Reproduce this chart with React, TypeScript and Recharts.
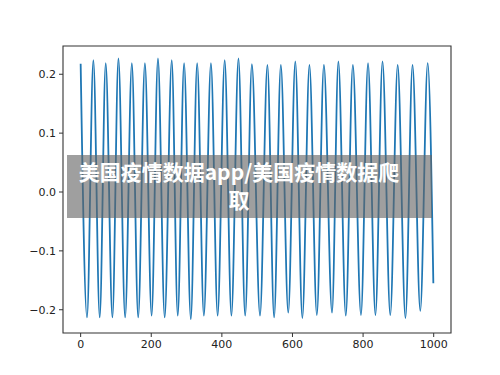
import React from "react";
import {
  LineChart,
  Line,
  XAxis,
  YAxis,
  ReferenceArea,
} from "recharts";

// crest positions and heights
const peakX = [
  0, 36, 71, 107, 145, 182, 219, 258, 293, 330, 369, 408, 447, 485, 529, 567,
  608, 648, 689, 730, 771, 814, 855, 898, 940, 983,
];
const peakY = [
  0.218, 0.224, 0.219, 0.227, 0.219, 0.219, 0.227, 0.224, 0.219, 0.219, 0.219,
  0.224, 0.227, 0.217, 0.216, 0.216, 0.222, 0.216, 0.216, 0.222, 0.216, 0.219,
  0.222, 0.216, 0.216, 0.219,
];

// trough positions and depths
const troughX = [
  18, 54, 90, 126, 163, 201, 238, 275, 312, 349, 388, 427, 466, 508, 548, 588,
  628, 669, 712, 751, 794, 835, 877, 920, 962,
];
const troughY = [
  -0.213, -0.213, -0.213, -0.213, -0.213, -0.21, -0.213, -0.21, -0.216, -0.21,
  -0.21, -0.21, -0.21, -0.21, -0.213, -0.205, -0.214, -0.209, -0.205, -0.21,
  -0.209, -0.209, -0.209, -0.214, -0.202,
];

// last sample
const endX = [999];
const endY = [-0.155];

const xTicks = [0, 200, 400, 600, 800, 1000];
const yTicks = [-0.2, -0.1, 0.0, 0.1, 0.2];

const xDomain: [number, number] = [-50, 1049];
const yDomain: [number, number] = [-0.2395, 0.248];

const points = [
  ...peakX.map((x, i) => ({ x, y: peakY[i] })),
  ...troughX.map((x, i) => ({ x, y: troughY[i] })),
  ...endX.map((x, i) => ({ x, y: endY[i] })),
].sort((a, b) => a.x - b.x);

const fmtY = (v: number) => v.toFixed(1).replace("-", "\u2212");

const tickStyle = {
  fontFamily: "DejaVu Sans",
  fontSize: 11,
  fill: "#222",
};

export default function App() {
  return (
    <div style={{ position: "absolute", left: 0, top: 0, width: 500, height: 375, background: "#fff" }}>
      <LineChart
        width={500}
        height={375}
        data={points}
        margin={{ top: 46, right: 49, bottom: 12, left: 0 }}
      >
        <XAxis
          type="number"
          dataKey="x"
          domain={xDomain}
          allowDataOverflow
          ticks={xTicks}
          height={30}
          axisLine={false}
          tickLine={{ stroke: "#333" }}
          tickSize={4}
          tickMargin={3}
          tick={tickStyle}
        />
        <YAxis
          type="number"
          domain={yDomain}
          allowDataOverflow
          ticks={yTicks}
          width={63}
          axisLine={false}
          tickLine={{ stroke: "#333" }}
          tickSize={4}
          tickMargin={3}
          tick={tickStyle}
          tickFormatter={fmtY}
        />
        <Line
          type="monotone"
          dataKey="y"
          stroke="#1f77b4"
          strokeWidth={1.8}
          dot={false}
          isAnimationActive={false}
        />
        <ReferenceArea
          x1={xDomain[0]}
          x2={xDomain[1]}
          y1={yDomain[0]}
          y2={yDomain[1]}
          fill="none"
          fillOpacity={0}
          stroke="#333"
          strokeWidth={1.1}
          strokeOpacity={1}
        />
      </LineChart>
      <div
        style={{
          position: "absolute",
          left: 67,
          top: 155,
          width: 365,
          height: 63,
          background: "rgba(100,100,100,0.62)",
        }}
      />
      <div
        style={{
          position: "absolute",
          left: 59,
          top: 157,
          width: 360,
          textAlign: "center",
          color: "#fff",
          fontFamily: "'Noto Sans CJK SC'",
          fontWeight: 700,
          fontSize: 21,
          lineHeight: "28px",
        }}
      >
        <div>美国疫情数据app/美国疫情数据爬</div>
        <div>取</div>
      </div>
    </div>
  );
}
